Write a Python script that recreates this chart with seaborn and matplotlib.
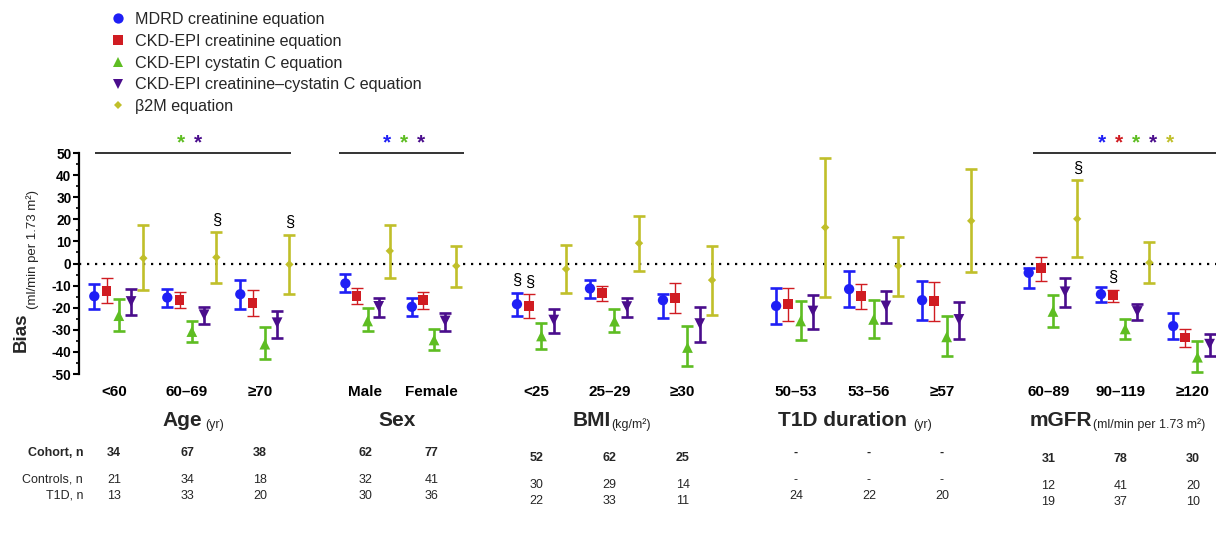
import numpy as np
import pandas as pd
import matplotlib
matplotlib.use("Agg")
import matplotlib.pyplot as plt
import seaborn as sns
from matplotlib.ticker import MultipleLocator

# ---------------- data ----------------
categories = ["<60", "60–69", "≥70", "Male", "Female", "<25", "25–29", "≥30",
              "50–53", "53–56", "≥57", "60–89", "90–119", "≥120"]
series_names = ["MDRD creatinine equation", "CKD-EPI creatinine equation",
                "CKD-EPI cystatin C equation", "CKD-EPI creatinine–cystatin C equation",
                "β2M equation"]

mdrd_mean = [-14.8, -15.4, -13.9, -9.0, -19.6, -18.4, -11.3, -16.6, -19.2, -11.6, -16.6, -4.2, -13.9, -28.3]
mdrd_lo   = [-20.8, -19.6, -20.4, -13.1, -23.7, -23.7, -15.4, -24.5, -27.2, -19.6, -25.7, -11.0, -17.4, -34.3]
mdrd_hi   = [-9.5, -11.6, -7.5, -4.9, -15.5, -13.3, -7.5, -13.9, -11.0, -3.4, -7.8, -2.2, -10.5, -22.4]

ckdcr_mean = [-12.5, -16.6, -17.8, -14.8, -16.6, -19.2, -13.5, -15.5, -18.4, -14.8, -17.0, -2.2, -14.3, -33.5]
ckdcr_lo   = [-17.8, -20.2, -23.7, -18.5, -20.7, -24.5, -17.0, -22.6, -26.0, -20.8, -26.1, -8.0, -17.4, -37.8]
ckdcr_hi   = [-6.7, -13.0, -12.0, -11.0, -12.8, -14.0, -10.1, -8.7, -11.0, -9.3, -8.3, 3.1, -12.0, -29.5]

cys_mean = [-23.6, -30.8, -36.5, -26.0, -34.6, -32.8, -26.1, -38.0, -26.0, -25.3, -33.2, -21.7, -29.6, -42.4]
cys_lo   = [-30.5, -35.5, -43.4, -30.7, -39.0, -38.5, -31.0, -46.6, -34.8, -33.7, -42.0, -28.7, -34.0, -48.9]
cys_hi   = [-16.1, -26.1, -28.7, -20.1, -29.8, -26.7, -20.7, -28.3, -17.0, -16.6, -23.7, -14.3, -24.9, -35.2]

crcys_mean = [-17.2, -23.2, -26.8, -19.4, -26.0, -25.6, -19.5, -27.2, -21.5, -19.2, -25.3, -12.8, -21.7, -36.5]
crcys_lo   = [-23.5, -27.6, -33.9, -24.2, -30.5, -31.4, -24.2, -35.5, -29.5, -26.9, -34.0, -19.6, -25.7, -42.0]
crcys_hi   = [-11.6, -19.6, -21.4, -15.5, -22.4, -20.7, -15.4, -19.9, -14.3, -12.4, -17.4, -6.7, -18.4, -31.7]

b2m_mean = [2.4, 2.8, -0.4, 5.7, -1.1, -2.5, 9.2, -7.5, 16.3, -1.1, 19.3, 20.2, 0.4, np.nan]
b2m_lo   = [-12.2, -9.0, -13.9, -6.4, -10.5, -13.5, -3.4, -23.4, -15.1, -14.8, -3.7, 3.1, -9.0, np.nan]
b2m_hi   = [17.2, 14.2, 13.0, 17.5, 8.1, 8.4, 21.3, 8.1, 47.8, 12.2, 42.8, 37.6, 9.9, np.nan]

section_titles = ["Age", "Sex", "BMI", "T1D duration", "mGFR"]
section_units = ["(yr)", "", "(kg/m²)", "(yr)", "(ml/min per 1.73 m²)"]
section_sizes = [3, 2, 3, 3, 3]

row_labels = ["Cohort, n", "Controls, n", "T1D, n"]
cohort_n = ["34", "67", "38", "62", "77", "52", "62", "25", "-", "-", "-", "31", "78", "30"]
controls_n = ["21", "34", "18", "32", "41", "30", "29", "14", "-", "-", "-", "12", "41", "20"]
t1d_n = ["13", "33", "20", "30", "36", "22", "33", "11", "24", "22", "20", "19", "37", "10"]

# significance marks: (section index, list of series indices)
star_groups = [(0, [2, 3]), (1, [0, 2, 3]), (4, [0, 1, 2, 3, 4])]
# § marks: (category index, series index)
section_marks = [(1, 4), (2, 4), (5, 0), (5, 1), (11, 4), (12, 1)]

means = [mdrd_mean, ckdcr_mean, cys_mean, crcys_mean, b2m_mean]
los = [mdrd_lo, ckdcr_lo, cys_lo, crcys_lo, b2m_lo]
his = [mdrd_hi, ckdcr_hi, cys_hi, crcys_hi, b2m_hi]

# ---------------- style ----------------
colors = ["#1f1ff5", "#d01c22", "#5ebd22", "#4a0d8c", "#c0bf2a"]
markers = ["o", "s", "^", "v", "D"]
msizes = [55, 50, 60, 60, 18]
elw = [1.9, 1.0, 1.9, 1.9, 1.9]

sns.set_theme(style="white")
plt.rcParams['font.family'] = ['Liberation Sans', 'DejaVu Sans']
plt.rcParams['axes.unicode_minus'] = False

W, H = 1216, 535
fig = plt.figure(figsize=(W / 100, H / 100), dpi=100)


def fx(px):
    return px / W


def fy(py):
    return 1 - py / H


PX0, UNIT = 94.3, 73.0


def px2u(px):
    return (px - PX0) / UNIT


def u2px(u):
    return PX0 + UNIT * u


ax_l, ax_t, ax_b = 79, 153, 374
ax = fig.add_axes([fx(ax_l), fy(ax_b), 1 - fx(ax_l), (ax_b - ax_t) / H])
ax.set_xlim(px2u(ax_l), px2u(W))
ax.set_ylim(-50, 50)

# layout of groups
sec_start = [0.0, 3.44, 5.79, 9.34, 12.80]
sec_step = [1.0, 0.91, 1.0, 1.0, 0.99]
sec_dodge = [0.168, 0.152, 0.168, 0.168, 0.166]
group_x, dodge = [], []
for s, n in enumerate(section_sizes):
    for i in range(n):
        group_x.append(sec_start[s] + i * sec_step[s])
        dodge.append(sec_dodge[s])
group_x = np.array(group_x)
dodge = np.array(dodge)
label_x = group_x + 0.27

rows = []
for k, name in enumerate(series_names):
    for i, v in enumerate(means[k]):
        rows.append(dict(x=group_x[i] + k * dodge[i], bias=v, equation=name))
df = pd.DataFrame(rows)

# error bars
for k in range(5):
    m = np.array(means[k], float)
    lo = np.array(los[k], float)
    hi = np.array(his[k], float)
    xs = group_x + k * dodge
    ok = ~np.isnan(m)
    ax.errorbar(xs[ok], m[ok], yerr=[m[ok] - lo[ok], hi[ok] - m[ok]], fmt="none",
                ecolor=colors[k], elinewidth=elw[k], capsize=4.2, capthick=elw[k],
                zorder=3, clip_on=False)

sns.scatterplot(data=df, x="x", y="bias", hue="equation", style="equation", size="equation",
                hue_order=series_names, style_order=series_names, size_order=series_names,
                palette=dict(zip(series_names, colors)), markers=dict(zip(series_names, markers)),
                sizes=dict(zip(series_names, msizes)), linewidth=0, ax=ax, zorder=5,
                clip_on=False)

handles, labels = ax.get_legend_handles_labels()
ax.get_legend().remove()
hl = [(h, l) for h, l in zip(handles, labels) if l in series_names]
fig.legend([h for h, _ in hl], [l for _, l in hl], loc="upper left",
           bbox_to_anchor=(fx(110), fy(12)), frameon=False, fontsize=11.6,
           handlelength=1.0, handletextpad=0.57, labelspacing=0.42, borderpad=0,
           borderaxespad=0)

# zero line
ax.axhline(0, color="black", linestyle=(0, (1, 2.6)), linewidth=1.6, zorder=1)

# axes styling
for sp in ["top", "right", "bottom"]:
    ax.spines[sp].set_visible(False)
ax.spines["left"].set_linewidth(1.6)
ax.spines["left"].set_color("black")
ax.spines["left"].set_bounds(-50, 50)
ax.yaxis.set_major_locator(MultipleLocator(10))
ax.yaxis.set_minor_locator(MultipleLocator(5))
ax.tick_params(axis="y", which="major", left=True, length=4, width=1.5, labelsize=9.8,
               pad=1.5, colors="black")
ax.tick_params(axis="y", which="minor", left=True, length=2, width=1.2, colors="black")
for t in ax.get_yticklabels():
    t.set_fontweight("bold")
ax.set_ylabel("")
ax.set_xlabel("")
ax.set_xticks(label_x)
ax.set_xticklabels(categories, fontweight="bold", fontsize=11)
ax.tick_params(axis="x", length=0, pad=8, colors="black")

# y label
fig.text(fx(21), fy(352), "Bias", rotation=90, fontsize=13.5, fontweight="bold",
         ha="center", va="bottom")
fig.text(fx(33), fy(309), "(ml/min per 1.73 m²)", rotation=90, fontsize=9.5,
         ha="center", va="bottom")

# significance lines and stars
sig_spans = {0: (px2u(95), px2u(291)), 1: (px2u(339), px2u(464)), 4: (px2u(1033), px2u(1260))}
star_centers = {0: px2u(189.5), 1: px2u(404), 4: px2u(1135.5)}
star_gap = 17.0 / UNIT
for s, ser in star_groups:
    a, b = sig_spans[s]
    ax.plot([a, b], [50, 50], color="#333333", linewidth=1.4, clip_on=False,
            solid_capstyle="butt")
    n = len(ser)
    for j, k in enumerate(ser):
        xs = star_centers[s] + (j - (n - 1) / 2) * star_gap
        ax.text(xs, 54.5, "*", color=colors[k], fontsize=15, fontweight="bold",
                ha="center", va="center", clip_on=False)

# § marks above the upper CI
for ci, k in section_marks:
    xs = group_x[ci] + k * dodge[ci]
    ax.text(xs, his[k][ci] + 5.5, "§", fontsize=12, ha="center", va="center",
            color="black", clip_on=False)

# section titles
title_x = [162, 378, 573, 778, 1030]
unit_x = [205, None, 611, 913, 1093]
for s in range(5):
    fig.text(fx(title_x[s]), fy(421), section_titles[s], fontsize=15, fontweight="bold",
             ha="left", va="center")
    if section_units[s]:
        fig.text(fx(unit_x[s]), fy(425), section_units[s], fontsize=9,
                 ha="left", va="center")

# table (columns under the category labels)
col_dy = [0, 0, 0, 0, 0, 5, 5, 5, 0, 0, 0, 6, 6, 6]
row_y = [453, 480, 496]
for r, (lab, vals) in enumerate(zip(row_labels, [cohort_n, controls_n, t1d_n])):
    fw = "bold" if r == 0 else "normal"
    fig.text(fx(83), fy(row_y[r]), lab, fontsize=9, fontweight=fw, ha="right", va="center")
    for c, v in enumerate(vals):
        fig.text(fx(u2px(label_x[c])), fy(row_y[r] + col_dy[c]), v, fontsize=9,
                 fontweight=fw, ha="center", va="center")

fig.savefig("out.png", dpi=100)
